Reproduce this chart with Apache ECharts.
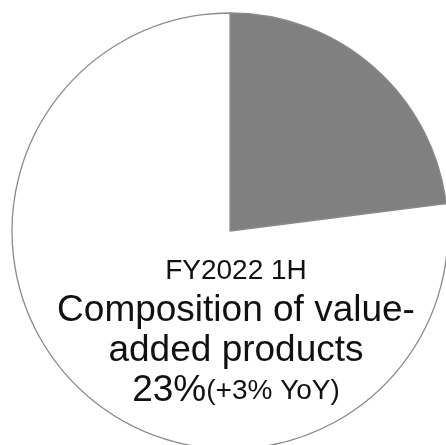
<!DOCTYPE html>
<html>
<head>
<meta charset="utf-8">
<script src="https://cdn.jsdelivr.net/npm/echarts@6/dist/echarts.min.js"></script>
<style>
  html, body { margin: 0; padding: 0; background: #fff; }
  #chart { width: 446px; height: 445px; }
</style>
</head>
<body>
<div id="chart"></div>
<script>
// Share of value-added products in FY2022 1H sales
const categories = ['Value-added products', 'Other products'];
const shares = [23, 77];
const sliceColors = ['#808080', '#ffffff'];

const periodLabel = 'FY2022 1H';
const headlineLines = ['Composition of value-', 'added products'];
const shareLabel = '23%';
const yoyLabel = '(+3% YoY)';

const chart = echarts.init(document.getElementById('chart'));

const textBase = { fontFamily: 'Liberation Sans', fontWeight: 'normal', color: '#111', lineHeight: 40 };

chart.setOption({
  animation: false,
  title: {
    left: 231,
    top: 246,
    textAlign: 'center',
    text: [
      '{small|' + periodLabel + '}',
      ...headlineLines.map(l => '{big|' + l + '}'),
      '{big|' + shareLabel + '}{small|' + yoyLabel + '}'
    ].join('\n'),
    textStyle: {
      fontWeight: 'normal',
      rich: {
        small: Object.assign({ fontSize: 28 }, textBase),
        big: Object.assign({ fontSize: 37 }, textBase)
      }
    }
  },
  series: [{
    type: 'pie',
    center: [230, 231],
    radius: 218,
    startAngle: 90,
    clockwise: true,
    label: { show: false },
    labelLine: { show: false },
    emphasis: { disabled: true },
    itemStyle: { borderColor: '#8a8a8a', borderWidth: 1.3, borderType: 'solid' },
    data: categories.map((name, i) => ({
      name,
      value: shares[i],
      itemStyle: { color: sliceColors[i] }
    }))
  }]
});
</script>
</body>
</html>
